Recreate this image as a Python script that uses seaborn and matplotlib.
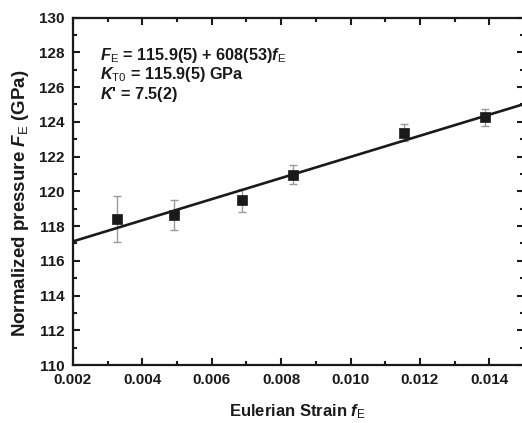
import matplotlib
matplotlib.use("Agg")
import matplotlib.pyplot as plt
from matplotlib.ticker import MultipleLocator, FormatStrFormatter
import numpy as np
import pandas as pd
import seaborn as sns

# Eulerian strain f_E and normalized pressure F_E (GPa) with uncertainties
strain = [0.00328, 0.00492, 0.00688, 0.00835, 0.01153, 0.01388]
norm_pressure = [118.40, 118.62, 119.48, 120.96, 123.38, 124.25]
pressure_err = [1.32, 0.85, 0.67, 0.55, 0.48, 0.50]

# linear fit F_E = K_T0 + slope * f_E
fit_intercept = 115.9
fit_slope = 608.0
fit_range = [0.002, 0.015]

sns.set_theme(style="ticks")
plt.rcParams["font.family"] = ["Liberation Sans", "DejaVu Sans"]
plt.rcParams["mathtext.fontset"] = "custom"
plt.rcParams["mathtext.rm"] = "Liberation Sans"
plt.rcParams["mathtext.bf"] = "Liberation Sans:bold"
plt.rcParams["mathtext.it"] = "Liberation Sans:italic:bold"
plt.rcParams["mathtext.cal"] = "Liberation Sans:italic:bold"

ink = "#1a1a1a"

df = pd.DataFrame({"strain": strain, "FE": norm_pressure, "err": pressure_err})
fit_x = np.array(fit_range)
fit_df = pd.DataFrame({"strain": fit_x, "FE": fit_intercept + fit_slope * fit_x})

fig = plt.figure(figsize=(5.22, 4.23), dpi=100)
ax = fig.add_axes([0.1398, 0.137, 1.004 - 0.1398, 0.9586 - 0.137])

ax.errorbar(df["strain"], df["FE"], yerr=df["err"], fmt="none",
            ecolor="#9a9a9a", elinewidth=1.0, capsize=3, capthick=1.0, zorder=2)
sns.lineplot(data=fit_df, x="strain", y="FE", color=ink, linewidth=1.9,
             ax=ax, zorder=3)
sns.scatterplot(data=df, x="strain", y="FE", marker="s", s=62, color=ink,
                edgecolor=ink, linewidth=0.5, ax=ax, zorder=4)

ax.set_xlim(0.002, 0.015)
ax.set_ylim(110, 130)
ax.xaxis.set_major_locator(MultipleLocator(0.002))
ax.xaxis.set_minor_locator(MultipleLocator(0.001))
ax.yaxis.set_major_locator(MultipleLocator(2))
ax.yaxis.set_minor_locator(MultipleLocator(1))
ax.xaxis.set_major_formatter(FormatStrFormatter("%.3f"))

ax.tick_params(which="both", direction="in", top=True, right=True,
               width=1.5, color=ink)
ax.tick_params(which="major", length=5, labelsize=11, labelcolor=ink)
ax.tick_params(axis="x", which="major", pad=6)
ax.tick_params(axis="y", which="major", pad=6)
ax.tick_params(which="minor", length=3)
for lbl in ax.get_xticklabels() + ax.get_yticklabels():
    lbl.set_fontweight("bold")
for sp in ax.spines.values():
    sp.set_linewidth(1.6)
    sp.set_color(ink)
    sp.set_visible(True)

ax.set_xlabel(r"Eulerian Strain $\mathit{f}_{\mathrm{E}}$", fontsize=12,
              fontweight="bold", color=ink)
ax.set_ylabel(r"Normalized pressure $\mathit{F}_{\mathrm{E}}$ (GPa)", fontsize=13.5,
              fontweight="bold", color=ink)
ax.xaxis.set_label_coords(0.497, -0.108)
ax.yaxis.set_label_coords(-0.094, 0.466)

annot_lines = [
    r"$\mathcal{F}_{\mathrm{E}}$ = 115.9(5) + 608(53)$\mathcal{f}_{\mathrm{E}}$",
    r"$\mathcal{K}_{\mathrm{T0}}$ = 115.9(5) GPa",
    r"$\mathcal{K}$' = 7.5(2)",
]
for i, line in enumerate(annot_lines):
    fig.text(100 / 522, 1 - (60 + i * 19.3) / 423, line, fontsize=11.7,
             fontweight="bold", color=ink, va="baseline", ha="left")

fig.savefig("out.png", dpi=100)
